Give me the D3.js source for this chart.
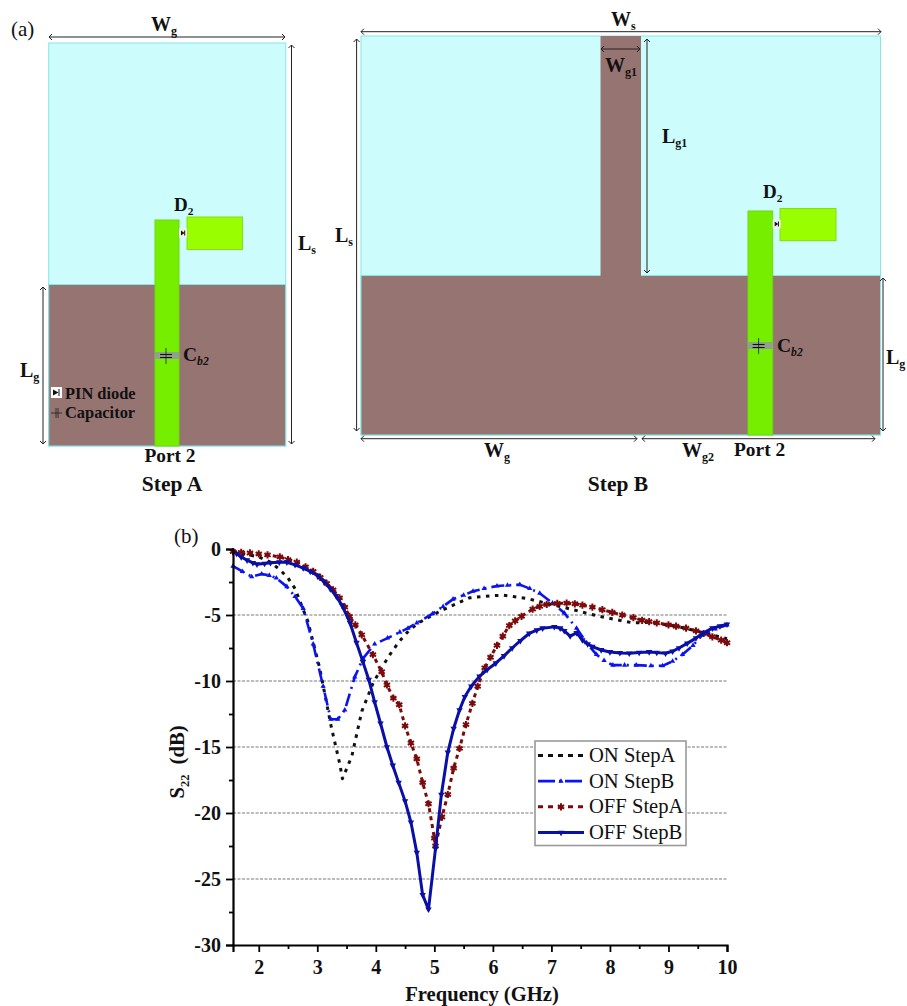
<!DOCTYPE html>
<html>
<head>
<meta charset="utf-8">
<script src="https://cdnjs.cloudflare.com/ajax/libs/d3/7.8.5/d3.min.js"></script>
<style>
  html, body { margin: 0; padding: 0; background: #fff; }
  svg { display: block; font-family: "Liberation Serif", serif; }
  text { fill: #111; }
</style>
</head>
<body>
<svg id="fig" width="907" height="1006"></svg>
<script>
// S22 curves

const seriesNames = ['ON StepA', 'ON StepB', 'OFF StepA', 'OFF StepB']

const onStepAFreq = [1.56, 2, 2.2, 2.37, 2.5, 2.62, 2.84, 3.04, 3.24, 3.38, 3.43, 3.59, 3.76, 3.95, 4.1, 4.24, 4.4, 4.58, 4.77, 4.97, 5.15, 5.35, 5.6, 5.95, 6.17, 6.35, 6.58, 6.95, 7.37, 7.77, 8.1, 8.4, 8.67, 9.13, 9.47, 9.7, 10]
const onStepAS22 = [-0.2, -0.6, -1, -1.6, -2.2, -3, -5.5, -9, -13.5, -16.2, -17.4, -15.7, -12.3, -10.2, -9, -8, -7, -6.1, -5.5, -5, -4.6, -4.2, -3.7, -3.55, -3.5, -3.6, -3.75, -4.15, -4.6, -5.05, -5.35, -5.6, -5.55, -5.85, -6.2, -6.45, -6.8]

const onStepBFreq = [1.56, 1.72, 1.88, 2.05, 2.18, 2.3, 2.48, 2.62, 2.76, 2.93, 3.1, 3.23, 3.35, 3.47, 3.64, 3.78, 3.98, 4.2, 4.41, 4.55, 4.7, 4.97, 5.15, 5.32, 5.5, 5.66, 5.85, 6.07, 6.25, 6.46, 6.63, 6.8, 7.02, 7.22, 7.43, 7.6, 7.77, 7.9, 8.05, 8.25, 8.45, 8.7, 8.9, 9.07, 9.24, 9.42, 9.58, 9.8, 10]
const onStepBS22 = [-1.3, -1.7, -2.1, -1.9, -2, -2.2, -2.85, -3.6, -4.5, -7.2, -10.4, -12.9, -12.9, -12.2, -9.7, -8.3, -7.2, -6.75, -6.3, -6, -5.6, -4.9, -4.35, -3.8, -3.5, -3.2, -3, -2.8, -2.75, -2.7, -3, -3.35, -4.1, -4.85, -6, -7.1, -8, -8.45, -8.8, -8.8, -8.8, -8.85, -8.85, -8.5, -8, -7.3, -6.5, -6.05, -5.75]

const offStepAFreq = [1.56, 1.7, 1.85, 2, 2.15, 2.36, 2.5, 2.65, 2.8, 2.93, 3.05, 3.16, 3.27, 3.38, 3.47, 3.55, 3.65, 3.76, 3.95, 4.1, 4.19, 4.3, 4.4, 4.5, 4.6, 4.7, 4.8, 4.9, 5, 5.02, 5.13, 5.23, 5.33, 5.43, 5.54, 5.65, 5.74, 5.86, 5.96, 6.07, 6.17, 6.28, 6.38, 6.49, 6.68, 6.8, 6.92, 7.1, 7.26, 7.4, 7.53, 7.7, 7.87, 8.04, 8.21, 8.4, 8.55, 8.67, 8.8, 9, 9.13, 9.3, 9.47, 9.6, 9.75, 9.9, 10]
const offStepAS22 = [-0.2, -0.25, -0.3, -0.37, -0.45, -0.6, -0.8, -1, -1.35, -1.7, -2.15, -2.6, -3.1, -3.7, -4.4, -5.1, -5.75, -6.5, -8, -9.3, -10.3, -11.3, -11.8, -13.4, -14.7, -15.9, -17.7, -19.3, -21.9, -22.5, -20.3, -18.6, -16.6, -15.1, -13.3, -11.7, -10.4, -9, -8.2, -7.3, -6.6, -5.8, -5.45, -5.1, -4.55, -4.35, -4.2, -4.12, -4.1, -4.15, -4.25, -4.4, -4.6, -4.8, -5, -5.2, -5.4, -5.5, -5.6, -5.75, -5.85, -6, -6.2, -6.4, -6.65, -6.9, -7.1]

const offStepBFreq = [1.62, 1.7, 1.8, 1.9, 1.97, 2.1, 2.2, 2.35, 2.48, 2.62, 2.76, 2.88, 3, 3.11, 3.22, 3.32, 3.42, 3.56, 3.67, 3.78, 3.88, 3.98, 4.08, 4.19, 4.29, 4.39, 4.5, 4.6, 4.7, 4.8, 4.9, 5.02, 5.12, 5.23, 5.33, 5.43, 5.52, 5.63, 5.77, 5.9, 6.05, 6.19, 6.33, 6.47, 6.62, 6.75, 6.85, 7.05, 7.15, 7.22, 7.32, 7.43, 7.53, 7.62, 7.7, 7.85, 8, 8.17, 8.33, 8.5, 8.67, 8.8, 8.95, 9.07, 9.18, 9.32, 9.47, 9.6, 9.75, 9.88, 10]
const offStepBS22 = [-0.35, -0.6, -0.85, -1.05, -1.15, -1.1, -1.05, -1, -1, -1.2, -1.45, -1.7, -2, -2.45, -3, -3.55, -4.25, -5.6, -7.1, -8.55, -9.9, -11.6, -13.2, -15, -16.4, -17.7, -19.1, -20.7, -23, -26.2, -27.3, -22.7, -18.6, -15.4, -13.6, -12.2, -11.2, -10.4, -9.65, -9.15, -8.65, -8.1, -7.5, -6.95, -6.4, -6.15, -6, -5.9, -6, -6.2, -6.6, -6.35, -6.9, -7.2, -7.4, -7.65, -7.8, -7.87, -7.9, -7.85, -7.8, -7.85, -7.9, -7.75, -7.5, -7.15, -6.75, -6.35, -6, -5.85, -5.7]

const xTicks = [2, 3, 4, 5, 6, 7, 8, 9, 10]
const yTicks = [0, -5, -10, -15, -20, -25, -30]
const gridValues = [-5, -10, -15, -20, -25]

const svg = d3.select('#fig')

const x = d3.scaleLinear().domain([1.56, 10]).range([233, 727])
const y = d3.scaleLinear().domain([-30, 0]).range([945, 549])

// label with a subscript, parts are [text, isSub]
function label (sel, px, py, size, parts, anchor) {
  const t = sel.append('text')
    .attr('x', px).attr('y', py)
    .attr('font-size', size)
    .attr('font-weight', 'bold')
    .attr('text-anchor', anchor || 'start')
  parts.forEach((p, i) => {
    const sp = t.append('tspan').text(p[0])
    if (p[1]) sp.attr('font-size', size * 0.6).attr('dy', size * 0.22)
    else if (i > 0 && parts[i - 1][1]) sp.attr('dy', -size * 0.22)
    if (p[2]) sp.attr('font-style', 'italic')
  })
  return t
}

function dimArrow (sel, x1, y1, x2, y2) {
  const a = 3
  const vertical = x1 === x2
  sel.append('line').attr('x1', x1).attr('y1', y1).attr('x2', x2).attr('y2', y2)
    .attr('stroke', '#222').attr('stroke-width', 1)
  const heads = vertical
    ? [[x1 - a, y1 + a, x1, y1, x1 + a, y1 + a], [x2 - a, y2 - a, x2, y2, x2 + a, y2 - a]]
    : [[x1 + a, y1 - a, x1, y1, x1 + a, y1 + a], [x2 - a, y2 - a, x2, y2, x2 - a, y2 + a]]
  heads.forEach(h => {
    sel.append('path')
      .attr('d', `M${h[0]},${h[1]}L${h[2]},${h[3]}L${h[4]},${h[5]}`)
      .attr('fill', 'none').attr('stroke', '#222').attr('stroke-width', 1)
  })
}

function box (sel, x0, y0, x1, y1, fill, stroke) {
  sel.append('rect').attr('x', x0).attr('y', y0)
    .attr('width', x1 - x0).attr('height', y1 - y0)
    .attr('fill', fill).attr('stroke', stroke || 'none').attr('stroke-width', 1)
}

function diodeIcon (sel, x0, cy) {
  box(sel, x0, cy - 4.5, x0 + 8, cy + 4.5, '#f0f0f0')
  sel.append('path')
    .attr('d', `M${x0 + 2},${cy - 2.5}L${x0 + 5.5},${cy}L${x0 + 2},${cy + 2.5}Z`)
    .attr('fill', '#111')
  sel.append('line').attr('x1', x0 + 5.7).attr('x2', x0 + 5.7)
    .attr('y1', cy - 2.5).attr('y2', cy + 2.5).attr('stroke', '#111')
}

function capIcon (sel, cx, cy) {
  sel.append('line').attr('x1', cx).attr('x2', cx).attr('y1', cy - 8).attr('y2', cy + 8)
    .attr('stroke', '#222').attr('stroke-width', 0.8)
  ;[-1.5, 1.5].forEach(d => {
    sel.append('line').attr('x1', cx - 6).attr('x2', cx + 6).attr('y1', cy + d).attr('y2', cy + d)
      .attr('stroke', '#111').attr('stroke-width', 1.1)
  })
}

const CYAN = '#ccfcfc'
const CYAN_EDGE = '#86e6e6'
const BROWN = '#967472'
const FEED = '#76ee00'
const PATCH = '#99ff00'
const BAND = '#8fa38a'

// Step A

const a = svg.append('g')
box(a, 48.7, 43, 285.7, 446, CYAN, CYAN_EDGE)
box(a, 48.7, 284.5, 285.7, 446, BROWN, CYAN_EDGE)
box(a, 155, 220, 179, 446, FEED, '#6fd80a')
box(a, 187, 217, 242.5, 249.5, PATCH, '#86dd10')
box(a, 155, 352, 179, 359, BAND)
diodeIcon(a, 179, 233)
capIcon(a, 166, 356)
dimArrow(a, 49, 37, 285, 37)
dimArrow(a, 291.5, 45, 291.5, 444)
dimArrow(a, 43, 287, 43, 444)
a.append('text').attr('x', 11).attr('y', 36).attr('font-size', 21).text('(a)')
label(a, 151, 31, 20, [['W'], ['g', 1]])
label(a, 174, 211, 19, [['D'], ['2', 1]])
label(a, 298, 250, 20, [['L'], ['s', 1]])
label(a, 20, 377, 20, [['L'], ['g', 1]])
label(a, 183, 361, 19.5, [['C'], ['b2', 1, 1]])
box(a, 51, 387, 62, 398, '#fff')
a.append('path').attr('d', 'M53,389.5L58.5,392.5L53,395.5Z').attr('fill', '#111')
a.append('line').attr('x1', 59).attr('x2', 59).attr('y1', 389).attr('y2', 396).attr('stroke', '#111')
a.append('line').attr('x1', 51).attr('x2', 62).attr('y1', 413).attr('y2', 413).attr('stroke', '#222').attr('stroke-width', 0.8)
a.append('line').attr('x1', 56).attr('x2', 56).attr('y1', 408).attr('y2', 418).attr('stroke', '#222').attr('stroke-width', 0.8)
a.append('line').attr('x1', 58).attr('x2', 58).attr('y1', 408).attr('y2', 418).attr('stroke', '#222').attr('stroke-width', 0.8)
label(a, 65, 399, 16.4, [['PIN diode']])
label(a, 65, 418, 16.4, [['Capacitor']])
label(a, 170, 462, 19.4, [['Port 2']], 'middle')
label(a, 172, 491, 21.5, [['Step A']], 'middle')

// Step B

const b = svg.append('g')
box(b, 361, 36, 880.5, 435, CYAN, CYAN_EDGE)
box(b, 361, 275.5, 880.5, 435, BROWN, CYAN_EDGE)
box(b, 600.5, 36, 641, 276, BROWN)
box(b, 748, 211, 772.7, 435, FEED, '#6fd80a')
box(b, 780, 208.5, 836, 240.7, PATCH, '#86dd10')
box(b, 748, 342, 772.7, 349, BAND)
diodeIcon(b, 772.7, 224)
capIcon(b, 758.6, 346)
dimArrow(b, 361, 31.7, 881, 31.7)
dimArrow(b, 601, 49, 640, 49)
dimArrow(b, 647, 39, 647, 273)
dimArrow(b, 361, 438.7, 637, 438.7)
dimArrow(b, 642, 438.7, 875, 438.7)
dimArrow(b, 356.6, 39, 356.6, 431)
dimArrow(b, 883, 278, 883, 431)
label(b, 611, 26, 20, [['W'], ['s', 1]])
label(b, 605, 72, 20, [['W'], ['g1', 1]])
label(b, 662, 143, 20, [['L'], ['g1', 1]])
label(b, 763, 198, 19, [['D'], ['2', 1]])
label(b, 777, 352, 19.5, [['C'], ['b2', 1, 1]])
label(b, 886, 364, 20, [['L'], ['g', 1]])
label(b, 335, 242, 20, [['L'], ['s', 1]])
label(b, 484, 457, 20, [['W'], ['g', 1]])
label(b, 682, 457, 20, [['W'], ['g2', 1]])
label(b, 734, 456, 19.4, [['Port 2']])
label(b, 618, 491, 21.5, [['Step B']], 'middle')

// Plot

const plot = svg.append('g')

plot.append('text').attr('x', 174).attr('y', 543).attr('font-size', 21).text('(b)')

plot.selectAll('.grid')
  .data(gridValues)
  .enter().append('line')
  .attr('class', 'grid')
  .attr('x1', x.range()[0]).attr('x2', x.range()[1])
  .attr('y1', d => y(d)).attr('y2', d => y(d))
  .attr('stroke', '#777').attr('stroke-width', 1)
  .attr('stroke-dasharray', '3 1.5')

const series = [
  { freq: onStepAFreq, s22: onStepAS22, color: '#111', width: 3, dash: '3.5 5.5' },
  { freq: onStepBFreq, s22: onStepBS22, color: '#0a14f0', width: 2.6, dash: '13 5 2 5', marker: d3.symbolTriangle, size: 12 },
  { freq: offStepAFreq, s22: offStepAS22, color: '#7d0a0a', width: 3, dash: '4 4', marker: d3.symbolAsterisk, size: 36 },
  { freq: offStepBFreq, s22: offStepBS22, color: '#0a0fa5', width: 3, marker: d3.symbolTriangle, size: 18, flip: true }
]

const line = d3.line().x(d => x(d[0])).y(d => y(d[1]))

function symbolPath (s) {
  return d3.symbol().type(s.marker).size(s.size)()
}

function drawMarker (sel, s, px, py) {
  sel.append('path')
    .attr('d', symbolPath(s))
    .attr('transform', `translate(${px},${py})` + (s.flip ? ' rotate(180)' : ''))
    .attr('fill', s.color)
    .attr('stroke', s.marker === d3.symbolAsterisk ? s.color : 'none')
    .attr('stroke-width', s.marker === d3.symbolAsterisk ? 2 : 0)
}

series.forEach(s => {
  const pts = d3.zip(s.freq, s.s22)
  plot.append('path')
    .attr('d', line(pts))
    .attr('fill', 'none')
    .attr('stroke', s.color)
    .attr('stroke-width', s.width)
    .attr('stroke-linejoin', 'round')
    .attr('stroke-dasharray', s.dash || null)
  if (s.marker) {
    pts.forEach(p => drawMarker(plot, s, x(p[0]), y(p[1])))
  }
})

// Axes

const xAxis = d3.axisBottom(x).tickValues(xTicks).tickFormat(d3.format('d')).tickSize(7).tickPadding(8)
const yAxis = d3.axisLeft(y).tickValues(yTicks).tickFormat(d => d3.format('d')(d).replace('−', '-')).tickSize(7).tickPadding(5)

const minorX = d3.range(2.5, 10, 1)
const minorY = d3.range(-27.5, 0, 5)

const gx = plot.append('g').attr('transform', `translate(0,${y.range()[0]})`)
gx.call(d3.axisBottom(x).tickValues(minorX).tickFormat('').tickSize(4))
gx.call(g => g.selectAll('.domain').remove())
const gxMajor = plot.append('g').attr('transform', `translate(0,${y.range()[0]})`).call(xAxis)

const gy = plot.append('g').attr('transform', `translate(${x.range()[0]},0)`)
gy.call(d3.axisLeft(y).tickValues(minorY).tickFormat('').tickSize(4))
gy.call(g => g.selectAll('.domain').remove())
const gyMajor = plot.append('g').attr('transform', `translate(${x.range()[0]},0)`).call(yAxis)

;[gx, gy, gxMajor, gyMajor].forEach(g => {
  g.selectAll('line').attr('stroke', '#000').attr('stroke-width', 1.8)
  g.selectAll('.domain').attr('stroke', '#000').attr('stroke-width', 2.2)
  g.selectAll('text')
    .attr('font-family', '"Liberation Serif", serif')
    .attr('font-size', 20).attr('font-weight', 'bold').attr('fill', '#111')
})

label(plot, 482, 1001, 20.6, [['Frequency (GHz)']], 'middle')

const yl = plot.append('g').attr('transform', 'translate(184,762) rotate(-90)')
label(yl, 0, 0, 20.6, [['S'], ['22', 1], ['\u00a0\u00a0(dB)']], 'middle')

// Legend

const legend = plot.append('g')
box(legend, 535, 741, 686, 845.5, '#fff', '#999')
legend.select('rect').attr('stroke-width', 1.6)

const legendRowY = d3.scaleLinear().domain([0, 3]).range([755.5, 832.5])

seriesNames.forEach((name, i) => {
  const s = series[i]
  const ly = legendRowY(i)
  legend.append('line')
    .attr('x1', 538).attr('x2', 584)
    .attr('y1', ly).attr('y2', ly)
    .attr('stroke', s.color).attr('stroke-width', s.width)
    .attr('stroke-dasharray', s.dash ? (i === 1 ? '17 4 2 4' : '5 5') : null)
  if (s.marker) drawMarker(legend, s, 561, ly)
  legend.append('text').attr('x', 589).attr('y', ly + 6.5).attr('font-size', 20.6).text(name)
})
</script>
</body>
</html>
